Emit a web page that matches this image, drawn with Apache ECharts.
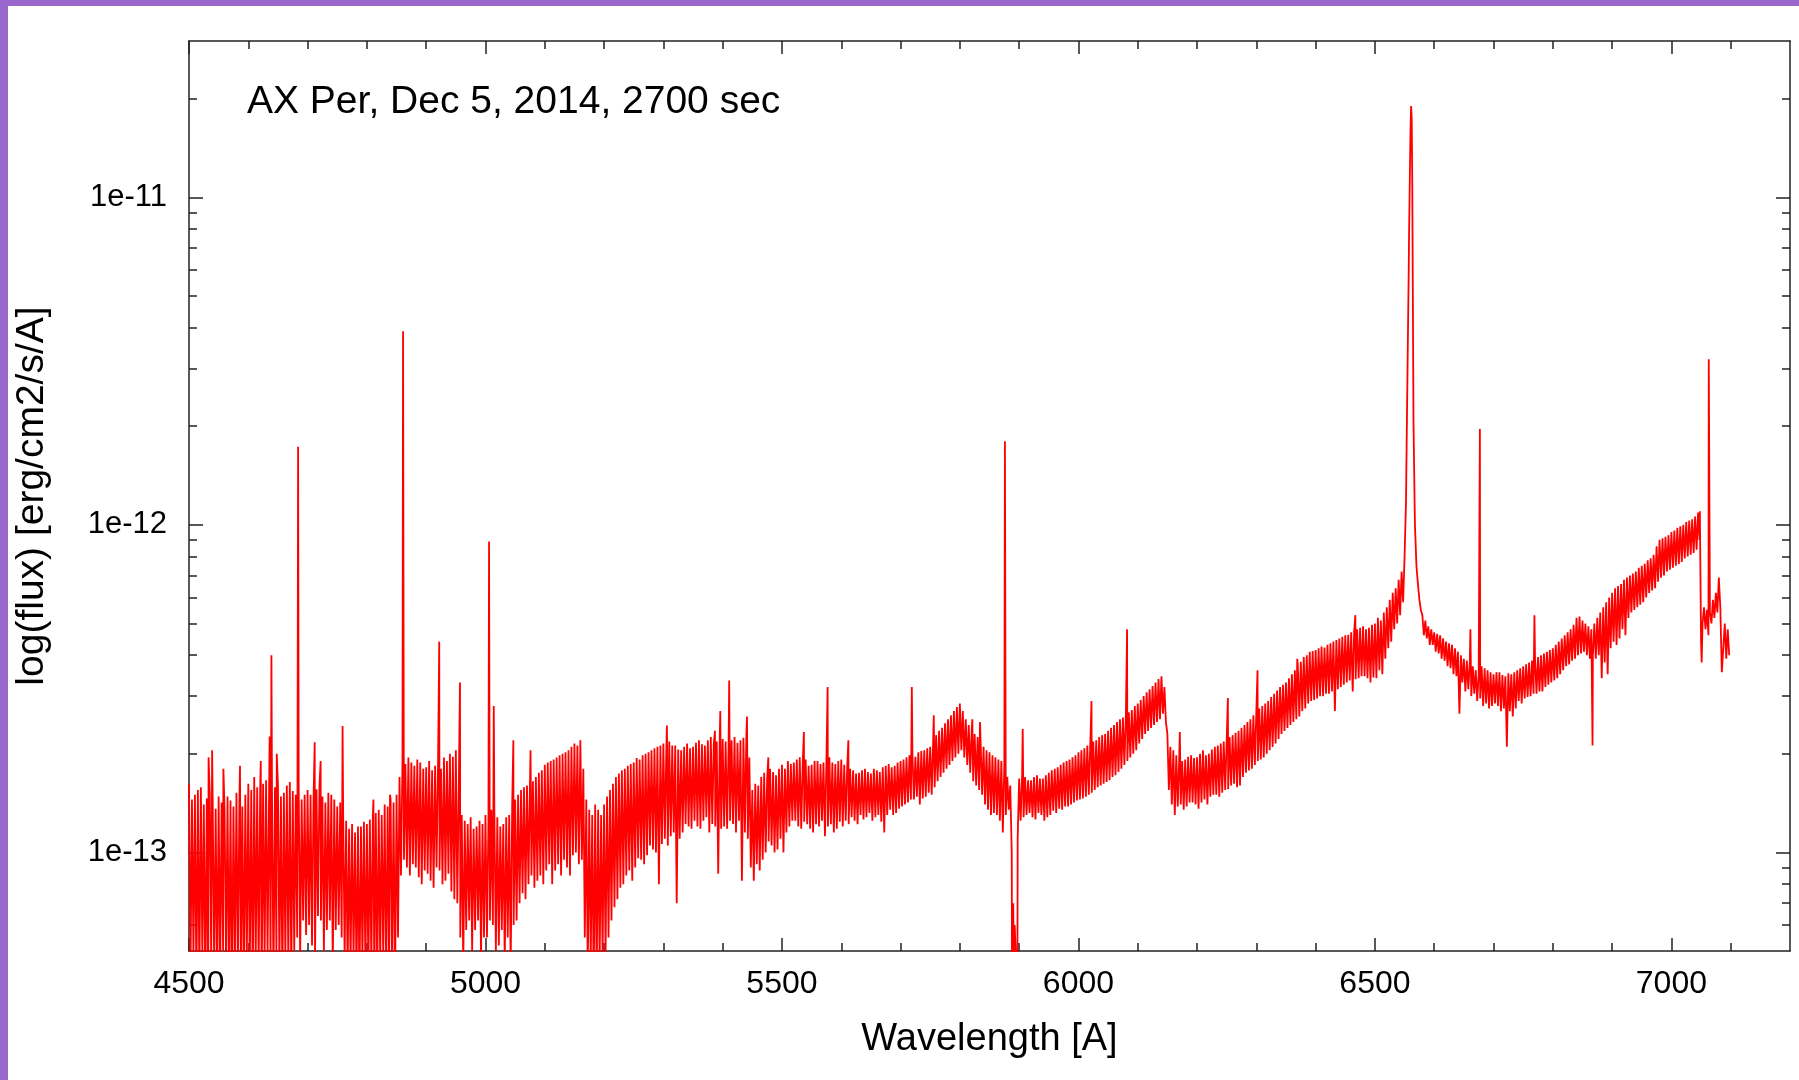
<!DOCTYPE html>
<html>
<head>
<meta charset="utf-8">
<script src="https://cdn.jsdelivr.net/npm/echarts@6/dist/echarts.min.js"></script>
<style>
html,body{margin:0;padding:0;background:#ffffff;}
#chart{position:absolute;left:0;top:0;width:1799px;height:1080px;}
.bl{position:absolute;left:0;top:0;width:8px;height:1080px;background:#9966cc;z-index:5;}
.bt{position:absolute;left:0;top:0;width:1799px;height:6px;background:#9966cc;z-index:5;}
</style>
</head>
<body>
<div id="chart"></div><div class="bl"></div><div class="bt"></div>
<script>
// Spectrum, in units of 1e-13 erg/cm2/s/A.
// Per 10 A bin: sampleA at +0 A, sampleB at +2.5 A, sampleC at +5 A, sampleD at +7.5 A.
const binStart = 4500, binWidth = 10;
const fluxUnit = 1e-13;
const sampleA = [
 1.62,1.50,1.58,1.46,1.40,1.48,1.34,1.44,1.52,1.38,
 1.62,1.70,1.55,1.66,1.50,1.60,1.52,1.64,1.50,1.45,
 1.55,1.45,1.60,1.42,1.50,1.38,1.30,1.18,1.15,1.20,
 1.22,1.28,1.35,1.40,1.45,1.50,1.90,1.95,1.84,1.88,
 1.82,1.78,1.86,1.95,2.00,2.05,1.30,1.22,1.18,1.25,
 1.30,1.35,1.28,1.22,1.30,1.45,1.55,1.60,1.65,1.75,
 1.85,1.90,1.95,2.00,2.05,2.15,2.20,1.45,1.30,1.35,
 1.40,1.55,1.70,1.78,1.84,1.88,1.92,2.00,2.05,2.10,
 2.15,2.18,2.12,2.05,2.15,2.10,2.20,2.12,2.25,2.18,
 2.22,2.15,2.25,2.20,2.30,1.55,1.60,1.75,1.80,1.72,
 1.85,1.90,1.88,1.95,1.92,1.85,1.90,1.88,1.95,1.86,
 1.92,1.82,1.78,1.75,1.80,1.74,1.78,1.82,1.86,1.84,
 1.90,1.95,2.00,2.02,2.05,2.10,2.28,2.40,2.55,2.70,
 2.85,2.55,2.35,2.25,2.10,2.02,1.95,1.90,1.70,0.70,
 1.68,1.70,1.66,1.72,1.68,1.75,1.80,1.85,1.90,1.95,
 2.02,2.08,2.15,2.20,2.28,2.35,2.45,2.55,2.62,2.72,
 2.85,3.00,3.15,3.30,3.45,2.30,2.05,1.95,1.92,1.98,
 1.95,2.05,2.00,2.10,2.15,2.20,2.28,2.35,2.45,2.55,
 2.70,2.80,2.90,3.05,3.20,3.30,3.50,3.70,3.95,4.10,
 4.15,4.25,4.30,4.40,4.50,4.60,4.70,4.80,4.90,4.85,
 5.00,5.10,5.60,6.20,6.80,8.00,160,7.50,5.30,4.90,
 4.70,4.60,4.40,4.30,4.10,3.90,3.80,3.60,3.70,3.60,
 3.50,3.55,3.45,3.50,3.60,3.70,3.80,3.90,4.00,4.10,
 4.20,4.40,4.60,4.80,5.20,5.10,4.90,5.00,5.40,5.80,
 6.20,6.50,6.80,7.00,7.20,7.50,7.80,8.10,9.00,9.20,
 9.50,9.80,10.0,10.3,10.6,4.40,5.50,5.90,6.90,5.00
];
const sampleB = [
 0.42,0.38,0.47,0.35,0.44,0.40,0.46,0.36,0.43,0.39,
 0.41,0.45,0.37,0.48,0.40,0.44,0.47,0.42,0.55,0.62,
 0.60,0.47,0.62,0.58,0.45,0.60,0.48,0.44,0.40,0.46,
 0.42,0.38,0.45,0.40,0.44,0.55,0.95,0.85,0.90,0.80,
 0.86,0.78,0.88,0.82,0.76,0.70,0.45,0.62,0.58,0.48,
 0.55,0.60,0.52,0.46,0.45,0.62,0.75,0.80,0.78,0.85,
 0.88,0.80,0.92,0.95,0.85,1.00,0.95,0.42,0.38,0.45,
 0.48,0.62,0.72,0.80,0.88,0.90,0.95,0.98,1.02,0.80,
 1.10,1.12,0.70,1.15,1.20,1.25,1.18,1.28,1.22,0.86,
 1.20,1.25,1.15,0.82,1.10,0.82,0.88,1.00,1.05,1.02,
 1.00,1.20,1.25,1.18,1.22,1.15,1.20,1.12,1.22,1.18,
 1.20,1.22,1.25,1.30,1.28,1.25,1.30,1.15,1.35,1.32,
 1.38,1.42,1.45,1.40,1.48,1.50,1.65,1.75,1.85,1.95,
 2.05,1.85,1.65,1.55,1.40,1.30,1.30,1.15,1.35,0.60,
 1.25,1.30,1.28,1.32,1.25,1.30,1.32,1.35,1.38,1.42,
 1.45,1.48,1.52,1.58,1.62,1.66,1.72,1.80,1.90,2.00,
 2.15,2.30,2.40,2.50,2.65,1.55,1.30,1.40,1.38,1.42,
 1.36,1.45,1.48,1.50,1.52,1.56,1.62,1.60,1.75,1.80,
 1.90,1.95,2.05,2.15,2.30,2.40,2.50,2.60,2.75,2.90,
 2.95,3.00,3.05,2.70,3.20,3.30,3.10,3.40,3.45,3.30,
 3.40,3.50,4.20,4.80,5.30,12.0,140,6.60,4.60,4.30,
 4.10,3.90,3.70,3.50,2.65,3.10,3.00,2.90,2.80,2.75,
 2.85,2.70,2.10,2.60,2.90,2.95,3.00,3.05,3.10,3.25,
 3.35,3.50,3.70,3.85,4.00,4.10,3.90,3.90,3.40,3.50,
 4.40,4.50,4.60,5.40,5.60,5.80,6.20,6.40,6.90,7.20,
 7.40,7.60,7.90,8.10,8.40,5.00,4.60,5.20,5.60,3.90
];
const sampleC = [
 1.45,1.55,1.40,1.52,1.36,1.42,1.48,1.38,1.45,1.50,
 1.55,1.58,1.62,1.50,1.58,1.48,1.60,1.54,1.58,1.50,
 1.50,1.56,1.48,1.52,1.45,1.42,1.25,1.22,1.20,1.24,
 1.26,1.32,1.30,1.38,1.42,1.70,1.86,1.88,1.92,1.80,
 1.90,1.84,1.80,1.90,1.96,1.60,1.25,1.28,1.20,1.22,
 1.25,1.32,1.20,1.28,1.38,1.50,1.58,1.62,1.70,1.78,
 1.88,1.92,1.98,2.02,2.10,2.12,1.80,1.35,1.40,1.30,
 1.48,1.62,1.74,1.80,1.86,1.94,1.98,2.02,2.08,2.12,
 2.08,2.12,2.06,2.10,2.08,2.16,2.14,2.20,2.15,2.22,
 2.18,2.20,2.16,2.24,1.95,1.62,1.70,1.68,1.76,1.80,
 1.80,1.86,1.92,1.88,1.84,1.90,1.86,1.92,1.88,1.90,
 1.85,1.80,1.74,1.78,1.76,1.80,1.76,1.84,1.82,1.88,
 1.92,1.98,1.96,2.04,2.08,2.20,2.35,2.48,2.62,2.78,
 2.70,2.45,2.30,2.18,2.05,1.98,1.92,1.85,1.60,0.45,
 1.72,1.66,1.70,1.68,1.72,1.78,1.82,1.88,1.92,1.98,
 2.05,2.12,2.18,2.25,2.30,2.40,2.50,2.58,2.68,2.80,
 2.92,3.08,3.22,3.38,3.20,2.10,1.98,1.90,1.96,1.94,
 2.00,1.98,2.06,2.12,2.18,2.25,2.32,2.40,2.50,2.62,
 2.75,2.85,2.98,3.12,3.25,3.40,3.60,3.82,4.00,4.12,
 4.20,4.22,4.35,4.45,4.55,4.62,4.75,4.85,4.80,4.95,
 5.20,5.40,5.90,6.40,7.20,30.0,21.0,5.90,5.10,4.80,
 4.65,4.50,4.35,4.20,4.00,3.85,3.70,3.50,3.65,3.55,
 3.55,3.48,3.52,3.55,3.65,3.75,3.85,3.95,4.05,4.15,
 4.30,4.50,4.70,4.95,5.25,5.00,4.80,5.20,5.60,6.00,
 6.40,6.60,6.90,7.10,7.40,7.60,7.90,8.60,9.10,9.30,
 9.60,9.90,10.2,10.4,10.9,5.60,5.40,6.20,3.55,4.80
];
const sampleD = [
 0.48,0.40,0.36,0.45,0.38,0.50,0.37,0.44,0.41,0.46,
 0.38,0.43,0.46,0.40,0.47,0.39,0.45,0.50,0.48,0.56,
 0.52,0.64,0.50,0.62,0.58,0.55,0.42,0.47,0.38,0.43,
 0.45,0.40,0.48,0.43,0.38,0.85,0.90,0.92,0.84,0.88,
 0.82,0.90,0.80,0.86,0.72,0.55,0.58,0.50,0.62,0.55,
 0.62,0.50,0.58,0.55,0.60,0.70,0.72,0.85,0.82,0.80,
 0.92,0.88,0.85,0.90,0.98,0.92,0.55,0.46,0.40,0.48,
 0.55,0.68,0.78,0.85,0.82,0.96,0.92,1.05,1.00,1.06,
 1.05,1.15,1.10,1.22,1.18,1.20,1.25,1.15,1.20,1.18,
 1.18,1.22,1.25,1.15,0.90,0.92,0.95,1.08,1.00,1.10,
 1.15,1.25,1.20,1.24,1.18,1.22,1.25,1.20,1.15,1.24,
 1.25,1.28,1.22,1.26,1.32,1.28,1.24,1.30,1.30,1.36,
 1.40,1.45,1.48,1.46,1.52,1.58,1.70,1.80,1.90,2.00,
 1.95,1.75,1.60,1.50,1.35,1.32,1.25,1.30,1.00,1.10,
 1.28,1.32,1.26,1.30,1.28,1.34,1.36,1.38,1.40,1.44,
 1.46,1.50,1.55,1.60,1.64,1.70,1.76,1.85,1.95,2.05,
 2.22,2.35,2.45,2.55,2.50,1.40,1.38,1.35,1.42,1.40,
 1.42,1.40,1.50,1.48,1.55,1.60,1.58,1.70,1.78,1.85,
 1.92,2.00,2.10,2.22,2.35,2.45,2.55,2.70,2.85,2.92,
 3.00,3.05,3.10,3.15,3.25,3.35,3.38,3.45,3.40,3.42,
 3.60,3.90,4.40,5.00,5.80,75.0,10.0,5.50,4.50,4.30,
 4.05,3.85,3.65,3.45,3.30,3.15,3.05,2.95,2.85,2.80,
 2.80,2.75,2.70,2.75,2.85,2.98,3.05,3.10,3.20,3.30,
 3.40,3.60,3.75,3.90,4.05,4.00,3.95,4.00,3.80,4.20,
 4.30,4.80,5.20,5.50,5.70,6.00,6.30,6.70,7.00,7.30,
 7.50,7.70,8.00,8.20,9.00,4.80,5.00,5.40,4.20,4.00
];
// narrow emission / absorption features: [wavelength, flux in 1e-13]
const lineFeatures = [
 [4533,1.95],[4539,2.05],[4558,1.80],[4586,1.84],[4621,1.90],[4636,2.26],[4639,4.0],[4648,2.0],
 [4684,17.3],[4712,2.17],[4722,1.90],[4759,2.43],[4811,1.45],[4839,1.50],[4861,39],
 [4922,4.4],[4957,3.3],[5006,8.9],[5014,2.8],[5047,2.2],[5076,2.05],[5306,2.44],
 [5387,2.35],[5396,2.7],[5411,3.35],[5441,2.6],[5477,1.95],[5537,2.33],[5577,3.2],[5612,2.2],
 [5719,3.2],[5756,2.62],[5821,2.55],[5834,2.5],[5876,18],[5888,0.4],[5892,0.3],[5897,0.35],
 [5906,2.38],[6022,2.9],[6082,4.8],[6171,2.33],[6252,2.96],[6302,3.6],[6369,3.9],[6467,5.3],
 [6553,14.8],[6557,60],[6559,120],[6561,190],[6562,175],[6563,110],[6567,11.4],
 [6661,4.8],[6677,19.6],[6769,5.3],[6867,2.12],[7048,11.0],[7051,3.8],[7063,32]
];
const xMajorTicks = [4500,5000,5500,6000,6500,7000];
const xMinorTicks = [4600,4700,4800,4900,5100,5200,5300,5400,5600,5700,5800,5900,6100,6200,6300,6400,6600,6700,6800,6900,7100];
const yMajorTicks = [1e-13,1e-12,1e-11];
const yMinorTicks = [6e-14,7e-14,8e-14,9e-14,2e-13,3e-13,4e-13,5e-13,6e-13,7e-13,8e-13,9e-13,
                     2e-12,3e-12,4e-12,5e-12,6e-12,7e-12,8e-12,9e-12,2e-11];

const pts = [];
sampleA.forEach(function(a,i){
  const w = binStart + i*binWidth;
  pts.push([w, a*fluxUnit]);
  pts.push([w + binWidth*0.25, sampleB[i]*fluxUnit]);
  pts.push([w + binWidth*0.5, sampleC[i]*fluxUnit]);
  pts.push([w + binWidth*0.75, sampleD[i]*fluxUnit]);
});
lineFeatures.forEach(function(p){ pts.push([p[0], p[1]*fluxUnit]); });
pts.sort(function(p,q){ return p[0]-q[0]; });

const FONT = "'Liberation Sans', Arial, Helvetica, sans-serif";
const AX = '#222222';
function xAxisDef(pos, ticks, len, withLine, withLabels){
  const o = {
    type:'value', min:4500, max:7200, position:pos,
    axisLine:{show:withLine, onZero:false, lineStyle:{color:AX, width:1.5}},
    axisTick:{show:true, inside:true, length:len, customValues:ticks, lineStyle:{color:AX, width:1.5}},
    axisLabel:{show:withLabels},
    splitLine:{show:false}, minorTick:{show:false}
  };
  if (withLabels){
    o.axisLabel = {show:true, customValues:xMajorTicks, fontSize:32, color:'#000', margin:17, fontFamily:FONT,
      formatter:function(v){ return String(v); }};
    o.name = 'Wavelength [A]';
    o.nameLocation = 'middle';
    o.nameGap = 70;
    o.nameTextStyle = {fontSize:38, color:'#000', fontFamily:FONT};
  }
  return o;
}
function yAxisDef(pos, ticks, len, withLine, withLabels){
  const o = {
    type:'log', logBase:10, min:5e-14, max:3e-11, position:pos,
    axisLine:{show:withLine, onZero:false, lineStyle:{color:AX, width:1.5}},
    axisTick:{show:true, inside:true, length:len, customValues:ticks, lineStyle:{color:AX, width:1.5}},
    axisLabel:{show:withLabels},
    splitLine:{show:false}, minorTick:{show:false}
  };
  if (withLabels){
    o.axisLabel = {show:true, customValues:yMajorTicks, fontSize:31, color:'#000', margin:22, fontFamily:FONT,
      formatter:function(v){ return '1e' + Math.round(Math.log10(v)); }};
    o.name = 'log(flux) [erg/cm2/s/A]';
    o.nameLocation = 'middle';
    o.nameGap = 137;
    o.nameTextStyle = {fontSize:39, color:'#000', fontFamily:FONT};
  }
  return o;
}

const chart = echarts.init(document.getElementById('chart'), null, {renderer:'canvas'});
chart.setOption({
  animation:false,
  backgroundColor:'rgba(0,0,0,0)',
  title:{text:'AX Per, Dec 5, 2014, 2700 sec', left:247, top:83, padding:0,
         textStyle:{fontSize:39, fontWeight:'normal', color:'#000', fontFamily:FONT}},
  grid:{left:189, top:41, right:9, bottom:129, containLabel:false},
  xAxis:[
    xAxisDef('bottom', xMajorTicks, 13, true, true),
    xAxisDef('bottom', xMinorTicks, 8, false, false),
    xAxisDef('top', xMajorTicks, 13, true, false),
    xAxisDef('top', xMinorTicks, 8, false, false)
  ],
  yAxis:[
    yAxisDef('left', yMajorTicks, 14, true, true),
    yAxisDef('left', yMinorTicks, 8, false, false),
    yAxisDef('right', yMajorTicks, 14, true, false),
    yAxisDef('right', yMinorTicks, 8, false, false)
  ],
  series:[{
    type:'line', xAxisIndex:0, yAxisIndex:0, data:pts,
    symbol:'none', showSymbol:false, clip:true, silent:true,
    lineStyle:{color:'#ff0000', width:1.8}
  }]
});
</script>
</body>
</html>
